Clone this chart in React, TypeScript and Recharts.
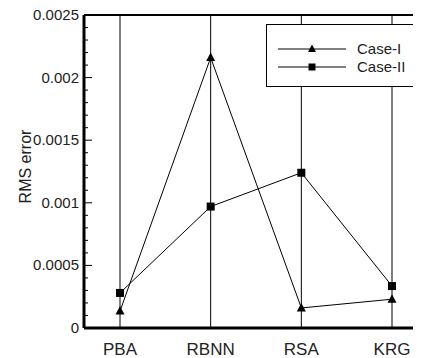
import React from 'react';
import { LineChart, Line, XAxis, YAxis, CartesianGrid, ReferenceLine } from 'recharts';

const categories = ['PBA', 'RBNN', 'RSA', 'KRG'];
const caseI = [0.000135, 0.00216, 0.00016, 0.00023];
const caseII = [0.00028, 0.00097, 0.00124, 0.000335];
const seriesNames = ['Case-I', 'Case-II'];
const majorTicks = [0, 0.0005, 0.001, 0.0015, 0.002, 0.0025];
const majorLabels = ['0', '0.0005', '0.001', '0.0015', '0.002', '0.0025'];
const minorTicks = [
  0.0001, 0.0002, 0.0003, 0.0004,
  0.0006, 0.0007, 0.0008, 0.0009,
  0.0011, 0.0012, 0.0013, 0.0014,
  0.0016, 0.0017, 0.0018, 0.0019,
  0.0021, 0.0022, 0.0023, 0.0024,
];
const allTicks = [...majorTicks, ...minorTicks].sort((a, b) => a - b);

const data = categories.map((c, i) => ({ name: c, caseI: caseI[i], caseII: caseII[i] }));

const FONT = '"Liberation Sans", Arial, Helvetica, sans-serif';

const YTick = (props: any) => {
  const { x, y, payload } = props;
  const idx = majorTicks.findIndex((t) => Math.abs(t - payload.value) < 1e-9);
  const major = idx >= 0;
  return (
    <g>
      <line x1={x} x2={x + (major ? 8 : 4)} y1={y} y2={y} stroke="#000" strokeWidth={1} />
      {major && (
        <text x={x - 5} y={y} dy={5} textAnchor="end" fontSize={15} fill="#222" fontFamily={FONT}>
          {majorLabels[idx]}
        </text>
      )}
    </g>
  );
};

const YLabel = (props: any) => {
  const vb = props.viewBox || {};
  const cx = 23;
  const cy = (vb.y ?? 0) + (vb.height ?? 0) / 2 - 5;
  return (
    <text
      x={cx}
      y={cy}
      transform={`rotate(-90 ${cx} ${cy})`}
      textAnchor="middle"
      fontSize={16}
      fill="#222"
      fontFamily={FONT}
    >
      RMS error
    </text>
  );
};

const Triangle = (props: any) => {
  const { cx, cy } = props;
  if (cx == null || cy == null) return null;
  return <polygon points={`${cx},${cy - 5} ${cx - 4.5},${cy + 3.5} ${cx + 4.5},${cy + 3.5}`} fill="#000" />;
};

const Square = (props: any) => {
  const { cx, cy } = props;
  if (cx == null || cy == null) return null;
  return <rect x={cx - 4} y={cy - 4} width={8} height={8} fill="#000" />;
};

const LegendBox = () => (
  <svg width={153} height={64} style={{ display: 'block' }}>
    <rect x={0.5} y={0.5} width={151} height={62} fill="#fff" stroke="#000" strokeWidth={1} />
    <line x1={12} x2={80} y1={25} y2={25} stroke="#000" />
    <polygon points="46,20.5 42,28 50,28" fill="#000" />
    <text x={91} y={30} fontSize={15} fill="#222" fontFamily={FONT}>{seriesNames[0]}</text>
    <line x1={12} x2={80} y1={43} y2={43} stroke="#000" />
    <rect x={42.5} y={39.5} width={7} height={7} fill="#000" />
    <text x={91} y={48} fontSize={15} fill="#222" fontFamily={FONT}>{seriesNames[1]}</text>
  </svg>
);

export default function App() {
  return (
    <div style={{ width: 413, height: 355, marginTop: -5, overflow: 'hidden', position: 'relative' }}>
      <LineChart
        width={440}
        height={355}
        data={data}
        margin={{ top: 12, right: 20, bottom: 0, left: 0 }}
        style={{ fontFamily: FONT }}
      >
        <CartesianGrid horizontal={false} vertical={true} stroke="#000" strokeWidth={1} />
        <XAxis
          dataKey="name"
          scale="point"
          padding={{ left: 36, right: 36 }}
          height={30}
          tickLine={false}
          tickSize={0}
          tickMargin={15}
          axisLine={{ stroke: '#000', strokeWidth: 3 }}
          tick={{ fontSize: 17, fill: '#222', fontFamily: FONT }}
        />
        <YAxis
          type="number"
          domain={[0, 0.0025]}
          ticks={allTicks}
          interval={0}
          width={76}
          tickLine={false}
          tickSize={0}
          tickMargin={0}
          axisLine={{ stroke: '#000', strokeWidth: 3 }}
          tick={<YTick />}
          label={<YLabel />}
        />
        <ReferenceLine y={0.0025} stroke="#000" strokeWidth={2} />
        <Line
          dataKey="caseI"
          name={seriesNames[0]}
          stroke="#000"
          strokeWidth={1}
          dot={<Triangle />}
          activeDot={false}
          isAnimationActive={false}
        />
        <Line
          dataKey="caseII"
          name={seriesNames[1]}
          stroke="#000"
          strokeWidth={1}
          dot={<Square />}
          activeDot={false}
          isAnimationActive={false}
        />
      </LineChart>
      <div style={{ position: 'absolute', left: 258, top: 21 }}>
        <LegendBox />
      </div>
    </div>
  );
}
